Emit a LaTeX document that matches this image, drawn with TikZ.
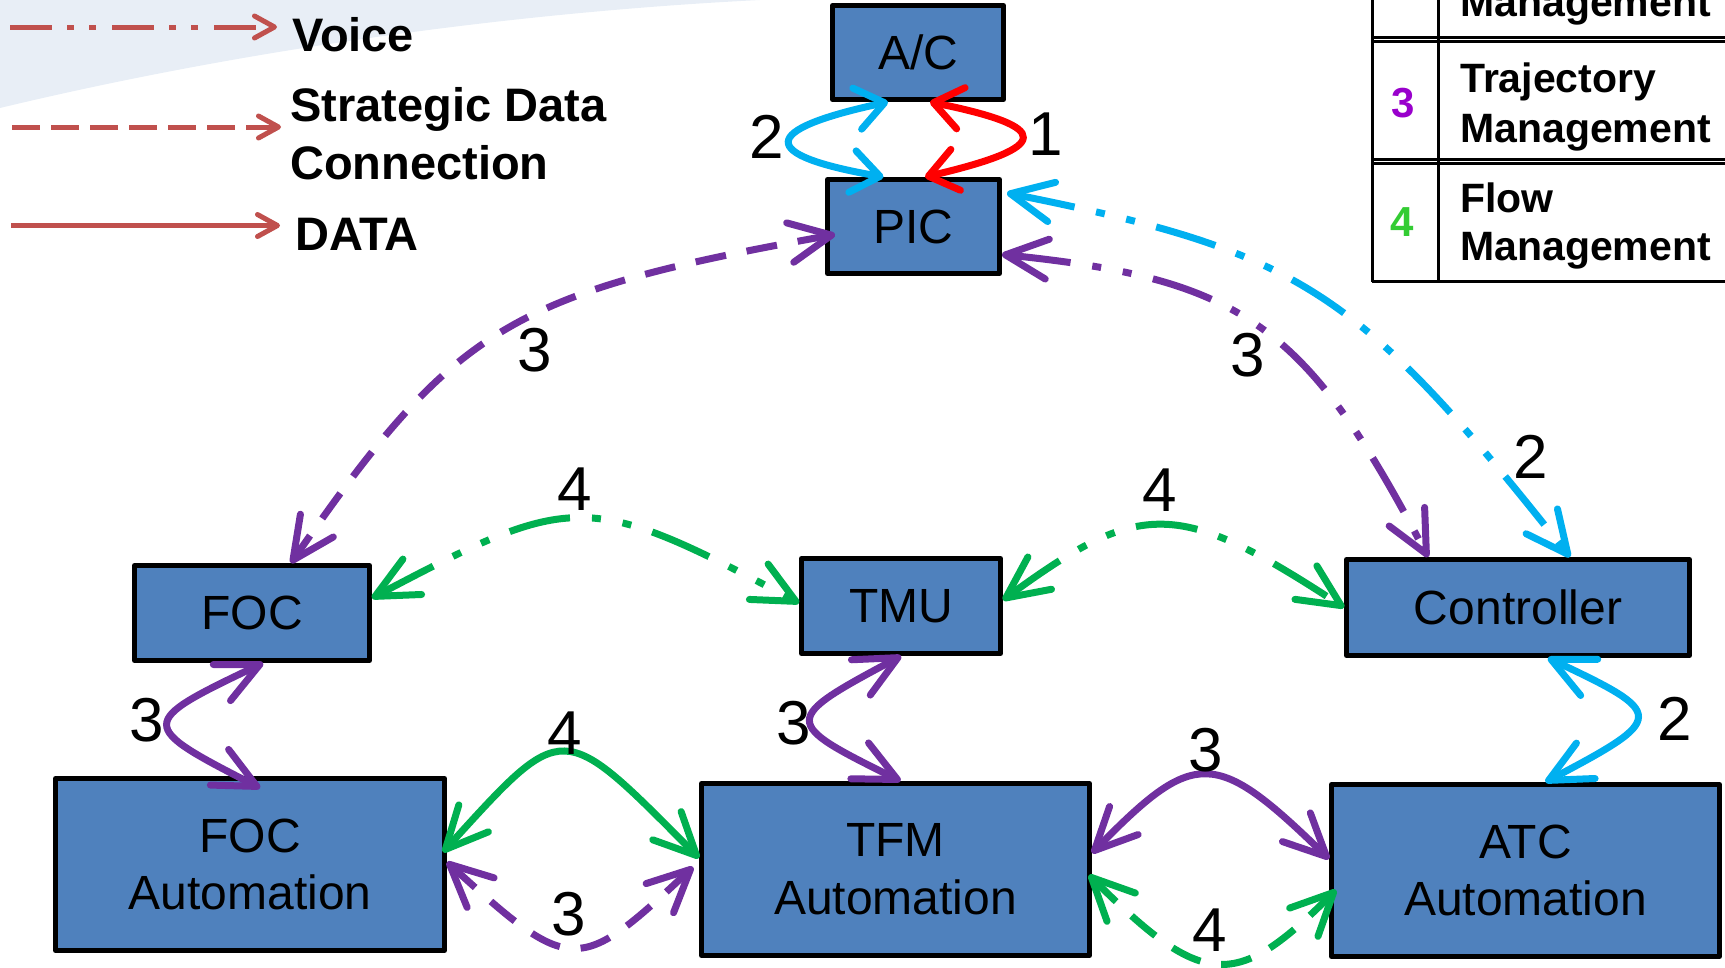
\documentclass[tikz,border=0pt]{standalone}
\usepackage{fontspec}
\setmainfont{Liberation Sans}
\usetikzlibrary{arrows.meta}

\definecolor{boxblue}{HTML}{4F81BD}
\definecolor{trajpurple}{HTML}{7030A0}
\definecolor{voicecyan}{HTML}{00B0F0}
\definecolor{flowgreen}{HTML}{00B050}
\definecolor{legendred}{HTML}{C0504D}
\definecolor{swoosh}{HTML}{E8EEF6}
\definecolor{numpurple}{HTML}{9900CC}
\definecolor{numgreen}{HTML}{33CC33}

\begin{document}
\begin{tikzpicture}[x=1pt,y=-1pt,
  block/.style={draw=black, line width=5pt, fill=boxblue, inner sep=0pt,
    align=center, line join=round, font=\fontsize{48}{57.6}\selectfont},
  num/.style={inner sep=0pt, font=\fontsize{62}{70}\selectfont},
  keytext/.style={anchor=base west, inner sep=0pt, font=\bfseries\fontsize{47}{56}\selectfont},
  tabtext/.style={anchor=base west, inner sep=0pt, font=\bfseries\fontsize{41}{50}\selectfont},
  tabnum/.style={inner sep=0pt, font=\bfseries\fontsize{42}{50}\selectfont},
  link/.style={line width=7pt,
    >={Straight Barb[length=42pt,width=40pt,line cap=round,line join=round]}},
  smalltips/.style={>={Straight Barb[length=28pt,width=42pt,line cap=round,line join=round]}},
  voiceline/.style={dash pattern=on 62pt off 22pt on 9pt off 22pt on 9pt off 22pt},
  strategicline/.style={dash pattern=on 31pt off 21pt},
  keyline/.style={legendred, line width=5pt,
    -{Straight Barb[length=20pt,width=22pt,line cap=round,line join=round]}},
  tabline/.style={line width=3pt, black}
]
\useasboundingbox (0,0) rectangle (1725,967);
\clip (0,0) rectangle (1725,967);

% slide background swoosh
\fill[swoosh] (0,0) -- (0,108) .. controls (250,48) and (520,12) .. (760,0) -- cycle;

% ---------- key for line styles ----------
\coordinate (voiceS) at (10,27);
\coordinate (voiceE) at (277,27);
\coordinate (stratS) at (12,127);
\coordinate (stratE) at (281,127);
\coordinate (dataS) at (11,225.5);
\coordinate (dataE) at (280,225.5);
\draw[keyline, dash pattern=on 42pt off 15pt on 7pt off 15pt on 7pt off 16pt] (voiceS) -- (voiceE);
\draw[keyline, dash pattern=on 28pt off 11pt] (stratS) -- (stratE);
\draw[keyline] (dataS) -- (dataE);
\node[keytext] (kvoice) at (292,51) {Voice};
\node[keytext] (kstratA) at (290,121) {Strategic Data};
\node[keytext] (kstratB) at (290,179) {Connection};
\node[keytext] (kdata) at (295,250) {DATA};

% ---------- key table for the numbers ----------
\draw[tabline] (1372,0) -- (1372,282);
\draw[tabline] (1438,0) -- (1438,282);
\draw[tabline] (1372,37) -- (1725,37);
\draw[tabline] (1372,41) -- (1725,41);
\draw[tabline] (1372,159) -- (1725,159);
\draw[tabline] (1372,163) -- (1725,163);
\draw[tabline] (1372,281) -- (1725,281);
\node[tabtext] (tabM) at (1460,16) {Management};
\node[tabnum, text=numpurple] (tab3) at (1403,103) {3};
\node[tabtext] (tab3a) at (1460,92) {Trajectory};
\node[tabtext] (tab3b) at (1460,142) {Management};
\node[tabnum, text=numgreen] (tab4) at (1402.5,222) {4};
\node[tabtext] (tab4a) at (1460,212) {Flow};
\node[tabtext] (tab4b) at (1460,260) {Management};

% ---------- units ----------
\node[block, minimum width=171pt, minimum height=94pt] (ac) at (918,52.5) {A/C};
\node[block, minimum width=172pt, minimum height=94pt] (pic) at (913.5,226.5) {PIC};
\node[block, minimum width=235pt, minimum height=95pt] (foc) at (252,613) {FOC};
\node[block, minimum width=199pt, minimum height=95pt] (tmu) at (901,606) {TMU};
\node[block, minimum width=343pt, minimum height=96pt] (ctrl) at (1518,607.5) {Controller};
\node[block, minimum width=389pt, minimum height=172pt] (focauto) at (250,864.5) {FOC\\Automation};
\node[block, minimum width=388pt, minimum height=172pt] (tfm) at (895.5,869.5) {TFM\\Automation};
\node[block, minimum width=388pt, minimum height=172pt] (atc) at (1525.5,870.5) {ATC\\Automation};

% ---------- links ----------
% aircraft <-> pilot
\draw[link, smalltips, red, <->] ([xshift=12pt]ac.south)
  .. controls (1053,127) and (1053,147) .. ([xshift=11.5pt]pic.north);
\draw[link, smalltips, voicecyan, <->] ([xshift=-30pt]ac.south)
  .. controls (758,130) and (758,155) .. ([xshift=-30pt]pic.north);

% pilot <-> FOC (strategic data)
\draw[link, strategicline, trajpurple, <->] ([xshift=10pt,yshift=-8pt]pic.west)
  .. controls (510,293) and (455,326) .. ([xshift=39pt]foc.north);

% pilot <-> controller (voice)
\draw[link, voiceline, voicecyan, <->] ([xshift=5pt,yshift=33.5pt]pic.east)
  .. controls (1301,252) and (1358,289) .. ([xshift=52pt]ctrl.north);
\draw[link, voiceline, trajpurple, <->] ([yshift=-28pt]pic.east)
  .. controls (1242,279) and (1306,324) .. ([xshift=-90pt]ctrl.north);

% flow management voice links
\draw[link, voiceline, flowgreen, <->] ([yshift=15pt]foc.east)
  .. controls (575,491) and (587,491) .. ([yshift=3pt]tmu.west);
\draw[link, voiceline, flowgreen, <->] ([yshift=6pt]tmu.east)
  .. controls (1141,499) and (1178,499) .. (ctrl.west);

% unit <-> its automation
\draw[link, trajpurple, <->] ([xshift=11pt]foc.south)
  .. controls (137,723) and (137,725) .. ([xshift=10pt,yshift=-12pt]focauto.north);
\draw[link, trajpurple, <->] (tmu.south)
  .. controls (781,720) and (781,722) .. ([xshift=5pt]tfm.north);
\draw[link, voicecyan, <->] ([xshift=30pt]ctrl.south)
  .. controls (1667,714) and (1667,718) .. ([xshift=20pt]atc.north);

% automation <-> automation
\draw[link, flowgreen, <->] ([xshift=-4pt,yshift=12.5pt]focauto.east)
  .. controls (565,718) and (560,718) .. ([yshift=11.5pt]tfm.west);
\draw[link, strategicline, trajpurple, <->] ([yshift=2.5pt]focauto.east)
  .. controls (571,975) and (578,975) .. ([xshift=-6pt,yshift=2.5pt]tfm.west);
\draw[link, trajpurple, <->] ([yshift=16.5pt]tfm.east)
  .. controls (1195,748) and (1215,748) .. ([yshift=11.5pt]atc.west);
\draw[link, strategicline, flowgreen, <->] ([xshift=-3pt,yshift=-5.5pt]tfm.east)
  .. controls (1204,990) and (1236,990) .. ([xshift=7pt,yshift=-19.5pt]atc.west);

% ---------- link numbers ----------
\node[num] (n1) at (1046,134) {1};
\node[num] (n2top) at (767,137) {2};
\node[num] (n3picfoc) at (535,350) {3};
\node[num] (n3picctrl) at (1248,355) {3};
\node[num] (n2picctrl) at (1531,457) {2};
\node[num] (n4foctmu) at (575,489) {4};
\node[num] (n4tmuctrl) at (1160,490) {4};
\node[num] (n3foc) at (147,720) {3};
\node[num] (n3tmu) at (794,723) {3};
\node[num] (n2ctrl) at (1675,719) {2};
\node[num] (n4auto) at (565,733) {4};
\node[num] (n3auto) at (569,914) {3};
\node[num] (n3tfmatc) at (1206,750) {3};
\node[num] (n4tfmatc) at (1210,930) {4};
\end{tikzpicture}
\end{document}
